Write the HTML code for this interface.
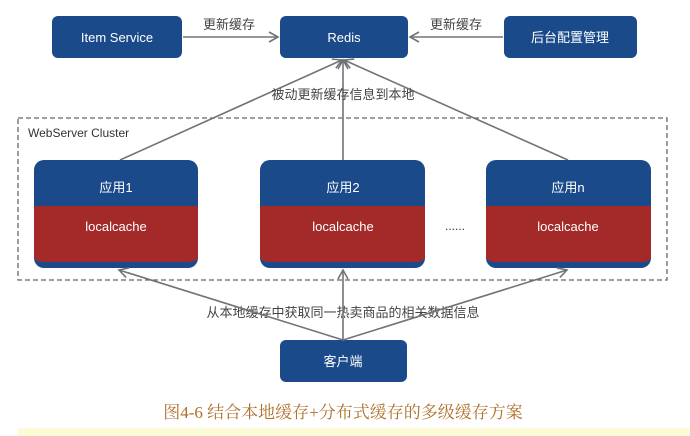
<!DOCTYPE html>
<html><head><meta charset="utf-8"><style>
body{margin:0;width:690px;height:436px;background:#fff;overflow:hidden;font-family:"Liberation Sans","Noto Sans CJK SC",sans-serif;}
</style></head><body>
<svg width="690" height="436" xmlns="http://www.w3.org/2000/svg" style="position:absolute;left:0;top:0">
<defs>
<marker id="a" markerWidth="12" markerHeight="12" refX="10" refY="6" orient="auto" markerUnits="userSpaceOnUse">
<path d="M1,1 L10,6 L1,11" fill="none" stroke="#707478" stroke-width="1.6"/></marker>
</defs>
<rect x="18" y="118" width="649" height="162" fill="none" stroke="#666" stroke-width="1.3" stroke-dasharray="5,3"/>
<text x="28" y="137" font-size="12" fill="#333">WebServer Cluster</text>
<g stroke="#707478" stroke-width="1.6" fill="none">
<line x1="183" y1="37" x2="278" y2="37" marker-end="url(#a)"/>
<line x1="503" y1="37" x2="410" y2="37" marker-end="url(#a)"/>
<line x1="120" y1="160" x2="342" y2="60" marker-end="url(#a)"/>
<line x1="343" y1="160" x2="343" y2="60" marker-end="url(#a)"/>
<line x1="568" y1="160" x2="344" y2="60" marker-end="url(#a)"/>
</g>
<text x="229" y="29" font-size="13" fill="#444" text-anchor="middle">更新缓存</text>
<text x="456" y="29" font-size="13" fill="#444" text-anchor="middle">更新缓存</text>
<text x="343" y="99" font-size="13" fill="#444" text-anchor="middle">被动更新缓存信息到本地</text>
<text x="343" y="317" font-size="13" fill="#444" text-anchor="middle">从本地缓存中获取同一热卖商品的相关数据信息</text>
<g font-size="13" fill="#fff" text-anchor="middle">
<rect x="52" y="16" width="130" height="42" rx="6" fill="#1b4a8a"/><text x="117" y="42">Item Service</text>
<rect x="280" y="16" width="128" height="42" rx="6" fill="#1b4a8a"/><text x="344" y="42">Redis</text>
<rect x="504" y="16" width="133" height="42" rx="6" fill="#1b4a8a"/><text x="570" y="42">后台配置管理</text>
<rect x="280" y="340" width="127" height="42" rx="6" fill="#1b4a8a"/><text x="343" y="366">客户端</text>
<g><rect x="34" y="160" width="164" height="108" rx="10" fill="#1b4a8a"/><rect x="34" y="206" width="164" height="44" fill="#a42a2a"/><path d="M34,250 h164 v6 q0,6 -10,6 h-144 q-10,0 -10,-6z" fill="#a42a2a"/><text x="116" y="192">应用1</text><text x="116" y="231">localcache</text></g>
<g><rect x="260" y="160" width="165" height="108" rx="10" fill="#1b4a8a"/><rect x="260" y="206" width="165" height="44" fill="#a42a2a"/><path d="M260,250 h165 v6 q0,6 -10,6 h-145 q-10,0 -10,-6z" fill="#a42a2a"/><text x="343" y="192">应用2</text><text x="343" y="231">localcache</text></g>
<g><rect x="486" y="160" width="165" height="108" rx="10" fill="#1b4a8a"/><rect x="486" y="206" width="165" height="44" fill="#a42a2a"/><path d="M486,250 h165 v6 q0,6 -10,6 h-145 q-10,0 -10,-6z" fill="#a42a2a"/><text x="568" y="192">应用n</text><text x="568" y="231">localcache</text></g>
</g>
<g stroke="#707478" stroke-width="1.6" fill="none">
<line x1="343" y1="340" x2="119" y2="270" marker-end="url(#a)"/>
<line x1="343" y1="340" x2="343" y2="270" marker-end="url(#a)"/>
<line x1="343" y1="340" x2="567" y2="270" marker-end="url(#a)"/>
</g>
<text x="455" y="230" font-size="12" fill="#333" text-anchor="middle">......</text>
<text x="343" y="418" font-size="17" fill="#b0702a" text-anchor="middle" font-family="Liberation Serif,'Noto Serif CJK SC',serif">图4-6 结合本地缓存+分布式缓存的多级缓存方案</text>
<rect x="18" y="428" width="672" height="8" fill="#fcfbd6"/>
</svg>
</body></html>
